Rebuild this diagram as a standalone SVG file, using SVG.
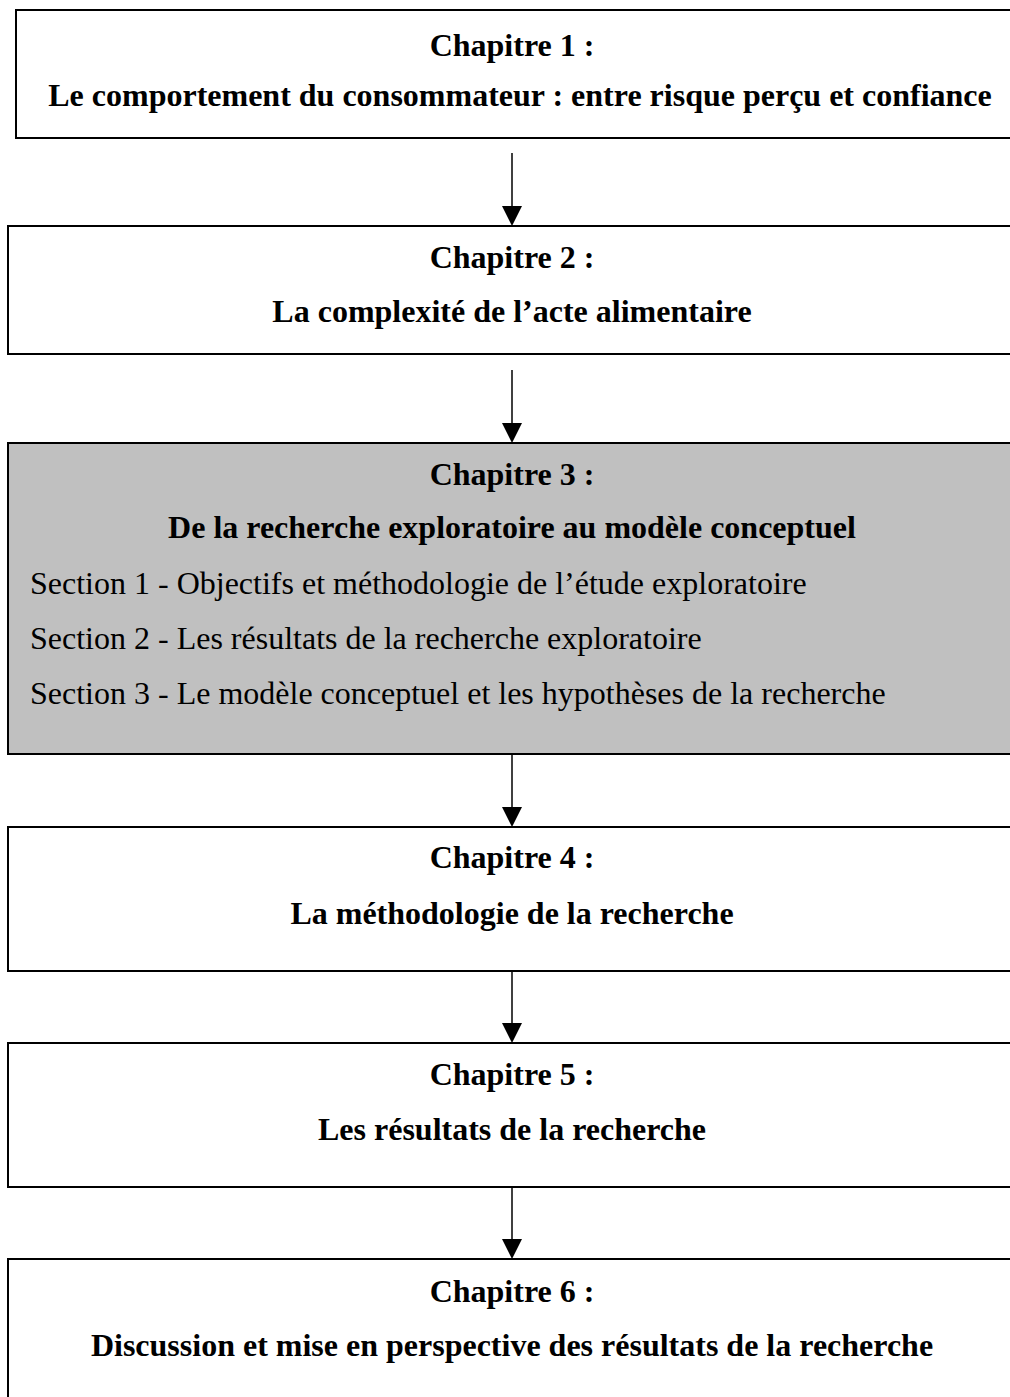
<svg xmlns="http://www.w3.org/2000/svg" width="1010" height="1397" viewBox="0 0 1010 1397">
  <style>
    .box { fill: #ffffff; stroke: #000000; stroke-width: 2; }
    .grey { fill: #c0c0c0; }
    .title { font-family: "Liberation Serif", "Times New Roman", serif; font-size: 32px; font-weight: bold; text-anchor: middle; fill: #000; }
    .sec { font-family: "Liberation Serif", "Times New Roman", serif; font-size: 32px; fill: #000; }
    .link { stroke: #000; stroke-width: 1.5; fill: none; }
    .head { fill: #000; }
  </style>
  <rect width="1010" height="1397" fill="#ffffff"/>

  <g id="chapitre1">
    <rect class="box" x="16" y="10" width="1010" height="128"/>
    <text class="title" x="512" y="56">Chapitre 1 :</text>
    <text class="title" x="520" y="106">Le comportement du consommateur : entre risque perçu et confiance</text>
  </g>

  <g id="chapitre2">
    <rect class="box" x="8" y="226" width="1020" height="128"/>
    <text class="title" x="512" y="268">Chapitre 2 :</text>
    <text class="title" x="512" y="322">La complexité de l’acte alimentaire</text>
  </g>

  <g id="chapitre3">
    <rect class="box grey" x="8" y="443" width="1020" height="311"/>
    <text class="title" x="512" y="485">Chapitre 3 :</text>
    <text class="title" x="512" y="538">De la recherche exploratoire au modèle conceptuel</text>
    <text class="sec" x="30" y="594">Section 1 - Objectifs et méthodologie de l’étude exploratoire</text>
    <text class="sec" x="30" y="649">Section 2 - Les résultats de la recherche exploratoire</text>
    <text class="sec" x="30" y="704">Section 3 - Le modèle conceptuel et les hypothèses de la recherche</text>
  </g>

  <g id="chapitre4">
    <rect class="box" x="8" y="827" width="1020" height="144"/>
    <text class="title" x="512" y="868">Chapitre 4 :</text>
    <text class="title" x="512" y="924">La méthodologie de la recherche</text>
  </g>

  <g id="chapitre5">
    <rect class="box" x="8" y="1043" width="1020" height="144"/>
    <text class="title" x="512" y="1085">Chapitre 5 :</text>
    <text class="title" x="512" y="1140">Les résultats de la recherche</text>
  </g>

  <g id="chapitre6">
    <rect class="box" x="8" y="1259" width="1020" height="160"/>
    <text class="title" x="512" y="1302">Chapitre 6 :</text>
    <text class="title" x="512" y="1356">Discussion et mise en perspective des résultats de la recherche</text>
  </g>

  <g id="connectors">
    <line class="link" x1="512" y1="153" x2="512" y2="208"/>
    <polygon class="head" points="502,206 522,206 512,226"/>
    <line class="link" x1="512" y1="370" x2="512" y2="425"/>
    <polygon class="head" points="502,423 522,423 512,443"/>
    <line class="link" x1="512" y1="754" x2="512" y2="809"/>
    <polygon class="head" points="502,807 522,807 512,827"/>
    <line class="link" x1="512" y1="971" x2="512" y2="1025"/>
    <polygon class="head" points="502,1023 522,1023 512,1043"/>
    <line class="link" x1="512" y1="1187" x2="512" y2="1241"/>
    <polygon class="head" points="502,1239 522,1239 512,1259"/>
  </g>
</svg>
